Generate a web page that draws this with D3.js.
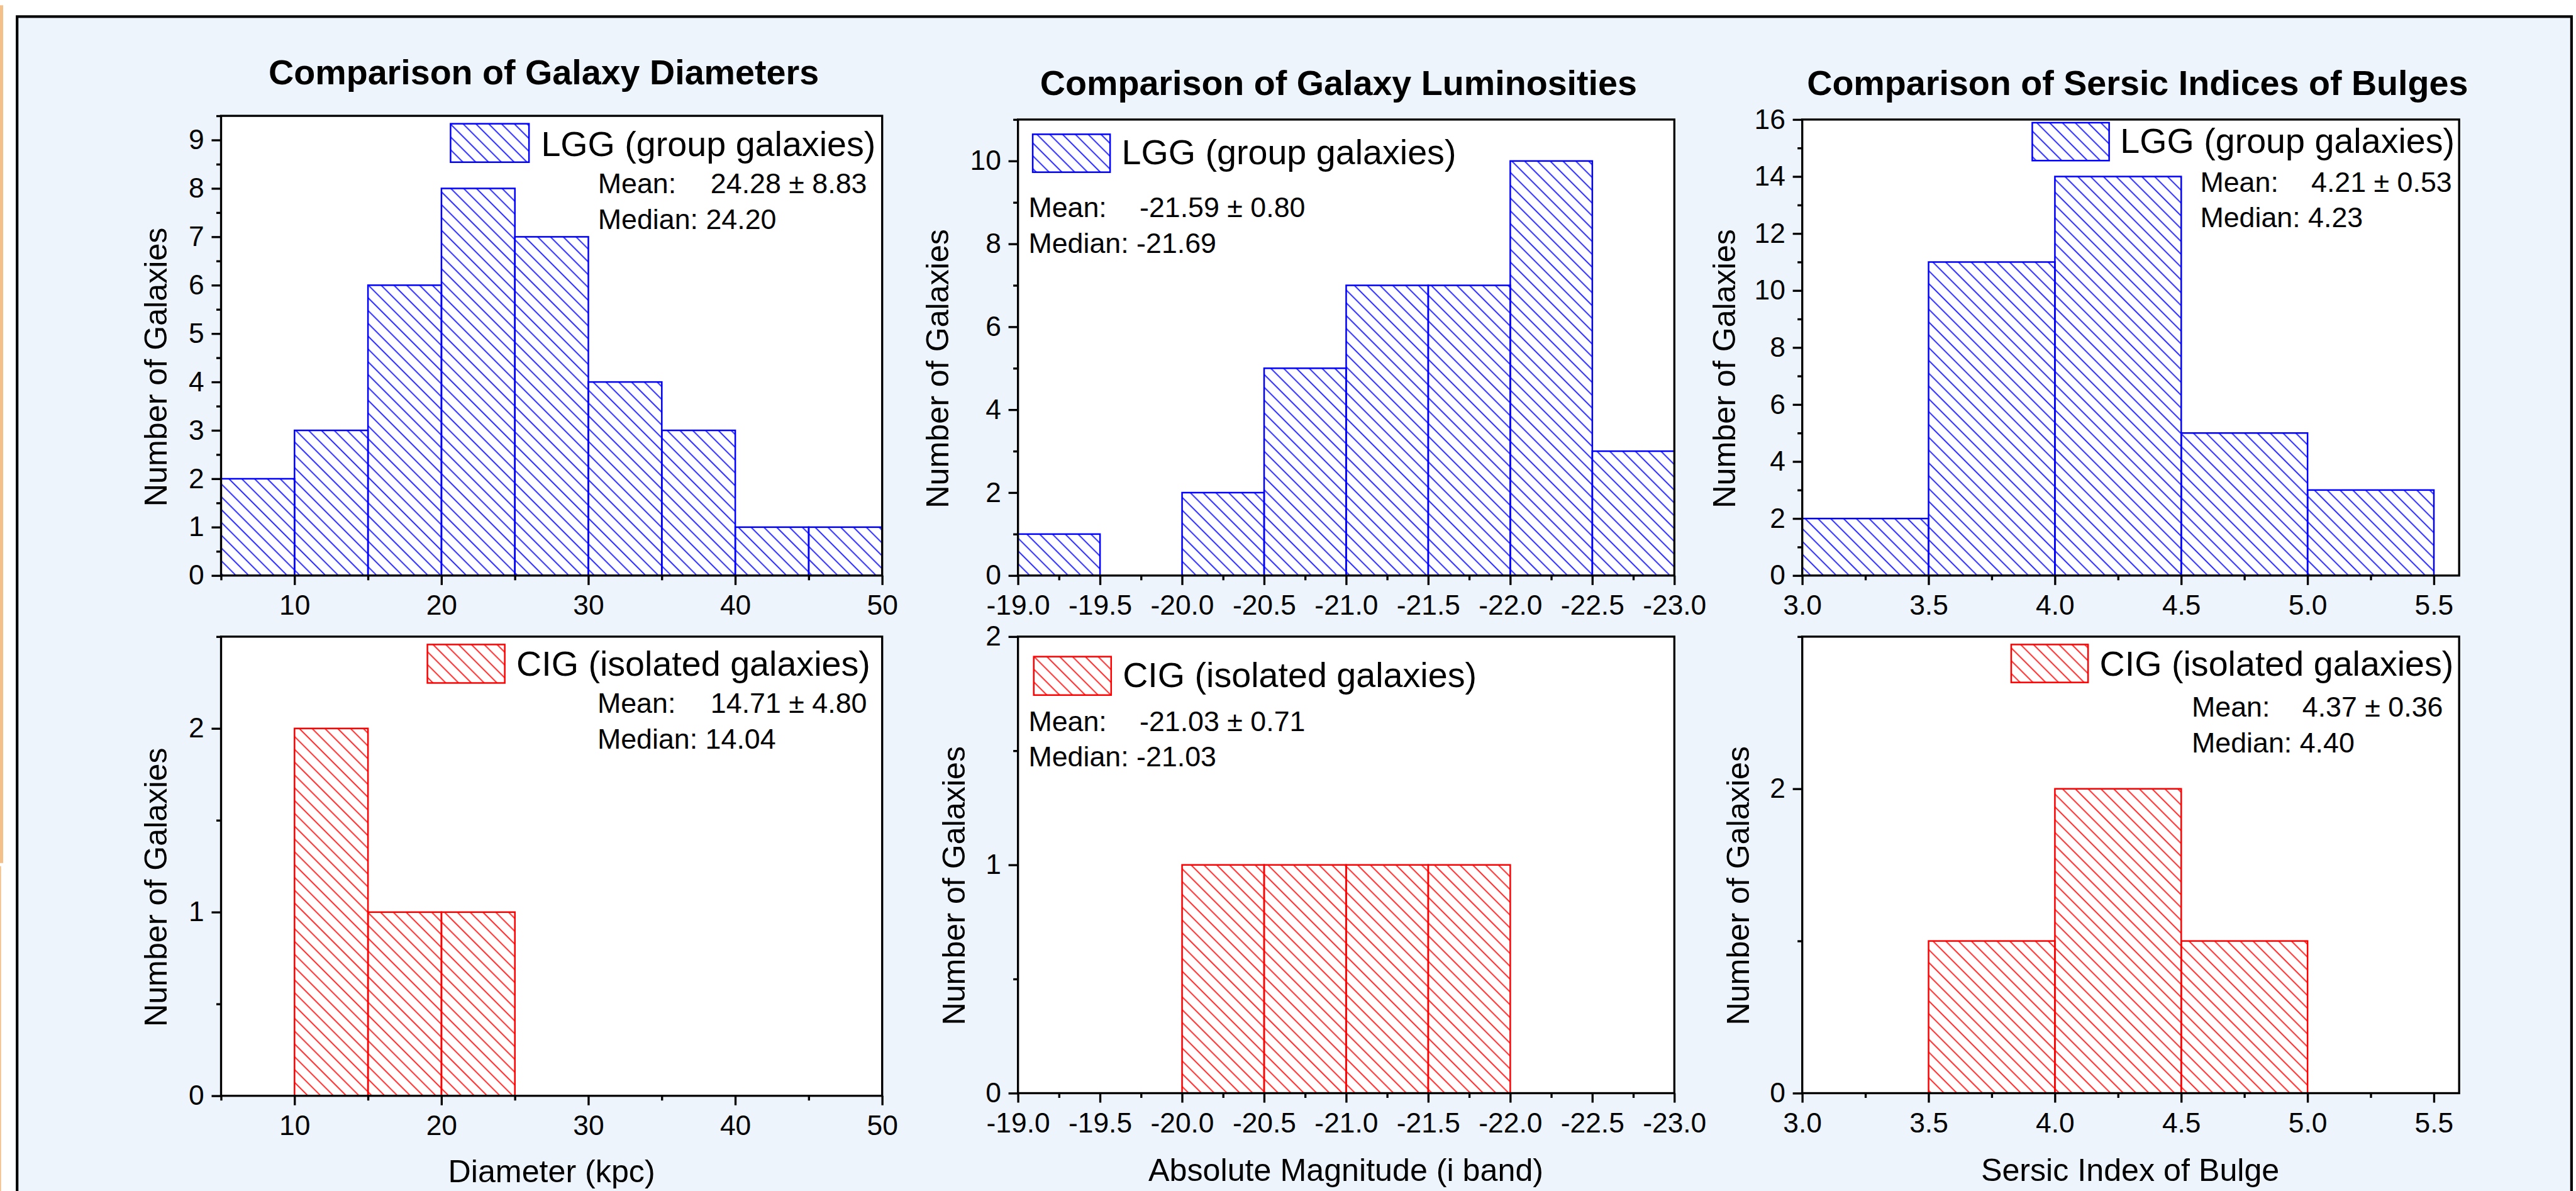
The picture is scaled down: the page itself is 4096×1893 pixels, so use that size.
<!DOCTYPE html>
<html><head><meta charset="utf-8">
<script src="https://cdn.jsdelivr.net/npm/d3@7"></script>
<style>html,body{margin:0;padding:0;background:#fff;overflow:hidden}</style>
</head><body>
<svg id="chart" width="4096" height="1893"></svg>
<script>
// ---------------- data ----------------
const diameterEdges = [5, 10, 15, 20, 25, 30, 35, 40, 45, 50];
const diameterLGG   = [2, 3, 6, 8, 7, 4, 3, 1, 1];
const diameterCIG   = [0, 2, 1, 1, 0, 0, 0, 0, 0];

const magnitudeEdges = [-19.0, -19.5, -20.0, -20.5, -21.0, -21.5, -22.0, -22.5, -23.0];
const magnitudeLGG   = [1, 0, 2, 5, 7, 7, 10, 3];
const magnitudeCIG   = [0, 0, 1, 1, 1, 1, 0, 0];

const sersicEdges = [3.0, 3.5, 4.0, 4.5, 5.0, 5.5];
const sersicLGG   = [2, 11, 14, 5, 3];
const sersicCIG   = [0, 1, 2, 1, 0];

const titles  = ["Comparison of Galaxy Diameters", "Comparison of Galaxy Luminosities", "Comparison of Sersic Indices of Bulges"];
const xTitles = ["Diameter (kpc)", "Absolute Magnitude (i band)", "Sersic Index of Bulge"];
const yTitle  = "Number of Galaxies";
const seriesNames = ["LGG (group galaxies)", "CIG (isolated galaxies)"];
const meanValues   = [["24.28 ± 8.83", "-21.59 ± 0.80", "4.21 ± 0.53"], ["14.71 ± 4.80", "-21.03 ± 0.71", "4.37 ± 0.36"]];
const medianValues = [["24.20", "-21.69", "4.23"], ["14.04", "-21.03", "4.40"]];

const xDomains = [[5, 50], [-19, -23], [3.0, 5.6]];
const yMaxes   = [[9.5, 11, 16], [2.5, 2, 3]];
const xMajorTicks = [[10, 20, 30, 40, 50],
                     [-19.0, -19.5, -20.0, -20.5, -21.0, -21.5, -22.0, -22.5, -23.0],
                     [3.0, 3.5, 4.0, 4.5, 5.0, 5.5]];
const xMinorTicks = [[5, 15, 25, 35, 45],
                     [-19.25, -19.75, -20.25, -20.75, -21.25, -21.75, -22.25, -22.75],
                     [3.25, 3.75, 4.25, 4.75, 5.25]];
const yMajorTicks = [[[0,1,2,3,4,5,6,7,8,9], [0,2,4,6,8,10], [0,2,4,6,8,10,12,14,16]],
                     [[0,1,2], [0,1,2], [0,2]]];
const yMinorTicks = [[[0.5,1.5,2.5,3.5,4.5,5.5,6.5,7.5,8.5,9.5], [1,3,5,7,9,11], [1,3,5,7,9,11,13,15]],
                     [[0.5,1.5,2.5], [0.5,1.5], [1,3]]];

const edges = [diameterEdges, magnitudeEdges, sersicEdges];
const counts = [[diameterLGG, magnitudeLGG, sersicLGG], [diameterCIG, magnitudeCIG, sersicCIG]];
const xFormats = [d => String(d), d => d.toFixed(1), d => d.toFixed(1)];

// ---------------- layout (reference pixels) ----------------
const S = 4096 / 4894;
const FONT = "'Liberation Sans', Arial, Helvetica, sans-serif";
const colX = [[420, 1676], [1934, 3181], [3424, 4672]];
const rowY = [[[220, 1093], [227, 1093], [227, 1093]],
              [[1209, 2081], [1209, 2076], [1209, 2076]]];
const colors = ["#0000ff", "#ff0000"];
const titlePos = [[1033, 160], [2543, 180], [4061, 180]];
const xTitlePos = [[1048, 2245], [2557, 2243], [4047, 2243]];
const yTitlePos = [[[317, 697], [1802, 700], [3297, 700]], [[317, 1685], [1833, 1682], [3323, 1682]]];
// legend: box x,y,w,h, text x, baseline, stats x, mean baseline, value x, median baseline
const legendPos = [
  [[856, 235, 149, 73, 1028, 296, 1136, 367, 1350, 435],
   [1962, 255, 147, 72, 2131, 312, 1954, 412, 2165, 480],
   [3861, 233, 146, 72, 4028, 290, 4180, 365, 4391, 431]],
  [[812, 1224, 147, 73, 981, 1283, 1135, 1354, 1350, 1422],
   [1964, 1247, 147, 73, 2133, 1305, 1954, 1388, 2165, 1455],
   [3821, 1224, 146, 72, 3989, 1283, 4164, 1361, 4374, 1429]]
];

const svg = d3.select("#chart");
const defs = svg.append("defs");
colors.forEach((c, i) => {
  const p = defs.append("pattern").attr("id", "hatch" + i)
    .attr("patternUnits", "userSpaceOnUse")
    .attr("width", 17.2).attr("height", 17.2)
    .attr("patternTransform", "rotate(-45)");
  p.append("line").attr("x1", 8.6).attr("y1", 0).attr("x2", 8.6).attr("y2", 17.2)
    .attr("stroke", c).attr("stroke-width", 2);
});

const g = svg.append("g").attr("transform", `scale(${S})`);
g.append("rect").attr("x", 0).attr("y", 0).attr("width", 4894).attr("height", 2262).attr("fill", "#fff");
g.append("rect").attr("x", 0).attr("y", 10).attr("width", 6).attr("height", 1629).attr("fill", "#f3c08a");
g.append("rect").attr("x", 0).attr("y", 1645).attr("width", 2).attr("height", 620).attr("fill", "#f3c08a");
g.append("rect").attr("x", 32.5).attr("y", 31.5).attr("width", 4853).attr("height", 2320)
  .attr("fill", "#eef4fc").attr("stroke", "#000").attr("stroke-width", 5);

function styleAxis(sel) {
  sel.select(".domain").remove();
  sel.selectAll("line").attr("stroke", "#000").attr("stroke-width", 4);
  sel.selectAll("text").attr("fill", "#000").attr("font-size", 53).attr("font-family", FONT);
  sel.attr("font-size", 53).attr("font-family", FONT);
}

for (let r = 0; r < 2; r++) {
  for (let c = 0; c < 3; c++) {
    const [x0, x1] = colX[c];
    const [top, bottom] = rowY[r][c];
    const x = d3.scaleLinear().domain(xDomains[c]).range([x0, x1]);
    const y = d3.scaleLinear().domain([0, yMaxes[r][c]]).range([bottom, top]);
    const pg = g.append("g");

    pg.append("rect").attr("x", x0).attr("y", top).attr("width", x1 - x0).attr("height", bottom - top).attr("fill", "#fff");

    const e = edges[c];
    const bins = counts[r][c].map((v, i) => ({ a: e[i], b: e[i + 1], v })).filter(d => d.v > 0);
    pg.selectAll("rect.bar").data(bins).join("rect").attr("class", "bar")
      .attr("x", d => Math.min(x(d.a), x(d.b)))
      .attr("width", d => Math.abs(x(d.b) - x(d.a)))
      .attr("y", d => y(d.v))
      .attr("height", d => y(0) - y(d.v))
      .attr("fill", `url(#hatch${r})`)
      .attr("stroke", colors[r]).attr("stroke-width", 3);

    pg.append("rect").attr("x", x0).attr("y", top).attr("width", x1 - x0).attr("height", bottom - top)
      .attr("fill", "none").attr("stroke", "#000").attr("stroke-width", 4);

    pg.append("g").attr("transform", `translate(0,${bottom})`)
      .call(d3.axisBottom(x).tickValues(xMinorTicks[c]).tickSize(9).tickFormat(""))
      .call(styleAxis);
    pg.append("g").attr("transform", `translate(0,${bottom})`)
      .call(d3.axisBottom(x).tickValues(xMajorTicks[c]).tickSize(18).tickPadding(19).tickFormat(xFormats[c]))
      .call(styleAxis);
    pg.append("g").attr("transform", `translate(${x0},0)`)
      .call(d3.axisLeft(y).tickValues(yMinorTicks[r][c]).tickSize(9).tickFormat(""))
      .call(styleAxis);
    pg.append("g").attr("transform", `translate(${x0},0)`)
      .call(d3.axisLeft(y).tickValues(yMajorTicks[r][c]).tickSize(18).tickPadding(14).tickFormat(d3.format("d")))
      .call(styleAxis);

    // y title
    const [yx, yy] = yTitlePos[r][c];
    pg.append("text").attr("transform", `translate(${yx},${yy}) rotate(-90)`)
      .attr("text-anchor", "middle").attr("font-family", FONT).attr("font-size", 60).attr("fill", "#000")
      .text(yTitle);

    // legend
    const L = legendPos[r][c];
    pg.append("rect").attr("x", L[0]).attr("y", L[1]).attr("width", L[2]).attr("height", L[3])
      .attr("fill", "#fff").attr("stroke", "none");
    pg.append("rect").attr("x", L[0]).attr("y", L[1]).attr("width", L[2]).attr("height", L[3])
      .attr("fill", `url(#hatch${r})`).attr("stroke", colors[r]).attr("stroke-width", 3);
    pg.append("text").attr("x", L[4]).attr("y", L[5]).attr("font-family", FONT).attr("font-size", 66.5)
      .attr("fill", "#000").text(seriesNames[r]);
    const mt = pg.append("text").attr("y", L[7]).attr("font-family", FONT).attr("font-size", 53.5).attr("fill", "#000");
    mt.append("tspan").attr("x", L[6]).text("Mean:");
    mt.append("tspan").attr("x", L[8]).text(meanValues[r][c]);
    pg.append("text").attr("x", L[6]).attr("y", L[9]).attr("font-family", FONT).attr("font-size", 53.5)
      .attr("fill", "#000").text("Median: " + medianValues[r][c]);

    if (r === 0) {
      pg.append("text").attr("x", titlePos[c][0]).attr("y", titlePos[c][1]).attr("text-anchor", "middle")
        .attr("font-family", FONT).attr("font-weight", "bold").attr("font-size", 66.5).attr("fill", "#000")
        .text(titles[c]);
    } else {
      pg.append("text").attr("x", xTitlePos[c][0]).attr("y", xTitlePos[c][1]).attr("text-anchor", "middle")
        .attr("font-family", FONT).attr("font-size", 60).attr("fill", "#000")
        .text(xTitles[c]);
    }
  }
}
</script>
</body></html>
